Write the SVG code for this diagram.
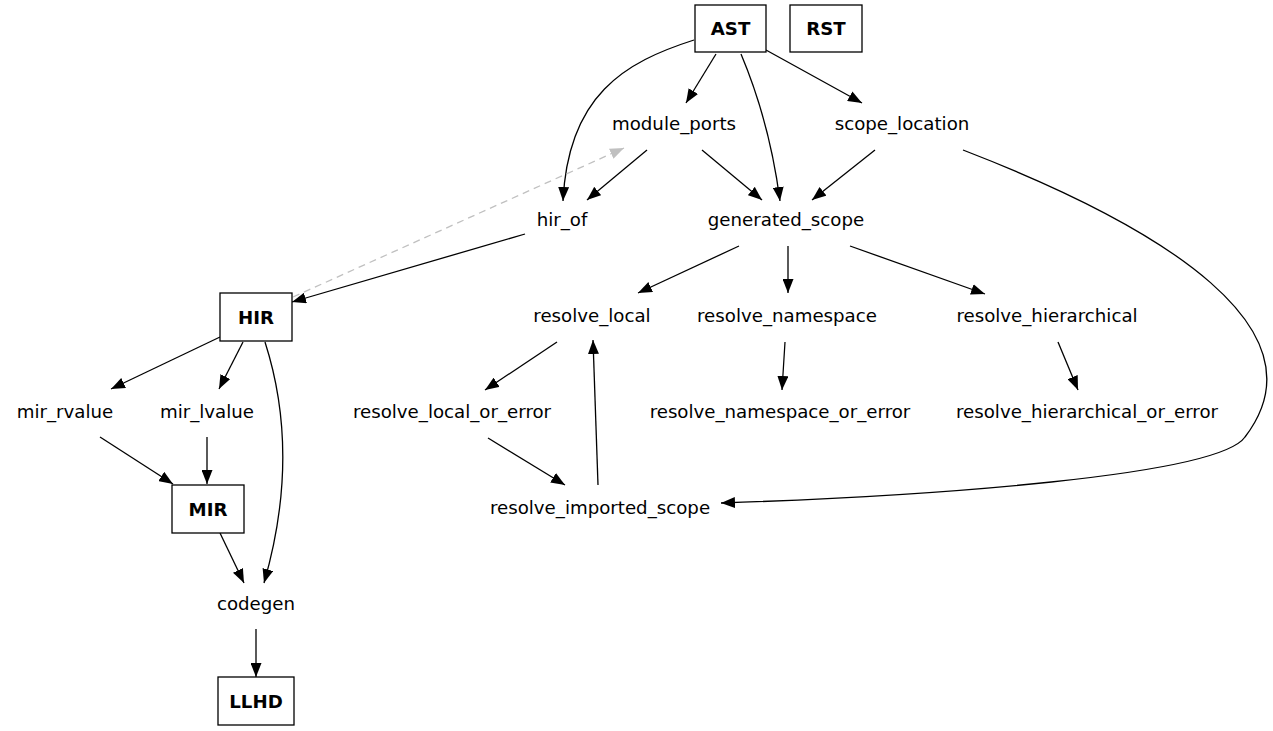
<svg xmlns="http://www.w3.org/2000/svg" width="1273" height="731" viewBox="0 0 1273 731">
  <style>
    text { font-family: "DejaVu Sans", sans-serif; font-size: 18.2px; fill: #000; text-anchor: middle; }
    .box rect { fill: #fff; stroke: #000; stroke-width: 1.3; }
    .box text { font-weight: bold; }
    .edges path { fill: none; stroke: #000; stroke-width: 1.3; marker-end: url(#arrow); }
    .edges path.weak { stroke: #c0c0c0; stroke-dasharray: 7,5; marker-end: url(#arrow-gray); }
  </style>
  <defs>
    <marker id="arrow" viewBox="0 0 14 11" refX="14" refY="5.5" markerWidth="14" markerHeight="11" markerUnits="userSpaceOnUse" orient="auto">
      <path d="M0,0 L14,5.5 L0,11 z" fill="#000"/>
    </marker>
    <marker id="arrow-gray" viewBox="0 0 14 11" refX="14" refY="5.5" markerWidth="14" markerHeight="11" markerUnits="userSpaceOnUse" orient="auto">
      <path d="M0,0 L14,5.5 L0,11 z" fill="#c0c0c0"/>
    </marker>
  </defs>
  <rect width="1273" height="731" fill="#fff"/>

  <g class="edges">
    <path d="M694,40 C625,62 568,95 563,201"/>
    <path d="M716,54 L686,103"/>
    <path d="M741,54 C757,92 772,140 780,201"/>
    <path d="M766,50 L862,103"/>
    <path d="M647,150 L587,200"/>
    <path d="M702,150 L762,200"/>
    <path d="M875,150 L812,200"/>
    <path d="M963,150 C1165,228 1327,330 1245,437 C1218,476 930,496 721,503"/>
    <path d="M525,234 L292,302"/>
    <path class="weak" d="M293,297 L624,148"/>
    <path d="M739,246 L638,293"/>
    <path d="M788,246 L788,293"/>
    <path d="M850,246 L985,294"/>
    <path d="M557,342 L485,390"/>
    <path d="M785,342 L782,390"/>
    <path d="M1058,342 L1078,390"/>
    <path d="M488,438 L565,485"/>
    <path d="M598,485 L593,340"/>
    <path d="M220,337 L111,389"/>
    <path d="M243,342 L219,389"/>
    <path d="M265,342 C290,420 288,500 264,583"/>
    <path d="M100,437 L173,484"/>
    <path d="M207,437 L207,484"/>
    <path d="M220,533 L244,583"/>
    <path d="M256,629 L256,677"/>
  </g>

  <g id="AST" class="box"><rect x="695" y="5" width="71" height="47"/><text x="730.5" y="35">AST</text></g>
  <g id="RST" class="box"><rect x="790" y="5" width="72" height="47"/><text x="826" y="35">RST</text></g>
  <g id="HIR" class="box"><rect x="220" y="293" width="72" height="48"/><text x="256" y="324">HIR</text></g>
  <g id="MIR" class="box"><rect x="172" y="485" width="72" height="48"/><text x="208" y="516">MIR</text></g>
  <g id="LLHD" class="box"><rect x="218" y="677" width="76" height="48"/><text x="256" y="708">LLHD</text></g>

  <g id="module_ports"><text x="674" y="130">module_ports</text></g>
  <g id="scope_location"><text x="902" y="130">scope_location</text></g>
  <g id="hir_of"><text x="562" y="226">hir_of</text></g>
  <g id="generated_scope"><text x="786" y="226">generated_scope</text></g>
  <g id="resolve_local"><text x="592" y="322">resolve_local</text></g>
  <g id="resolve_namespace"><text x="787" y="322">resolve_namespace</text></g>
  <g id="resolve_hierarchical"><text x="1047" y="322">resolve_hierarchical</text></g>
  <g id="mir_rvalue"><text x="65" y="418">mir_rvalue</text></g>
  <g id="mir_lvalue"><text x="207" y="418">mir_lvalue</text></g>
  <g id="resolve_local_or_error"><text x="452" y="418">resolve_local_or_error</text></g>
  <g id="resolve_namespace_or_error"><text x="780" y="418">resolve_namespace_or_error</text></g>
  <g id="resolve_hierarchical_or_error"><text x="1087" y="418">resolve_hierarchical_or_error</text></g>
  <g id="resolve_imported_scope"><text x="600" y="514">resolve_imported_scope</text></g>
  <g id="codegen"><text x="256" y="610">codegen</text></g>
</svg>
